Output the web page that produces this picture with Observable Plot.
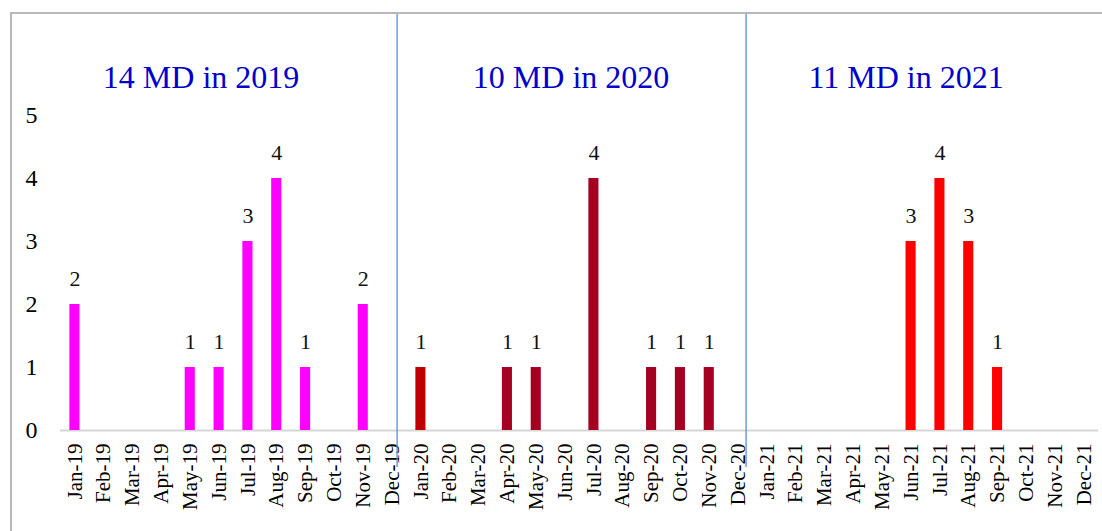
<!DOCTYPE html>
<html>
<head>
<meta charset="utf-8">
<script src="https://cdn.jsdelivr.net/npm/d3@7"></script>
<script src="https://cdn.jsdelivr.net/npm/@observablehq/plot@0.6"></script>
<style>
  html, body { margin: 0; padding: 0; background: #fff; }
  #wrap { position: relative; width: 1102px; height: 531px; overflow: hidden; }
  #frame { position: absolute; left: 10px; top: 12px; width: 1200px; height: 600px;
           border-top: 2px solid #b8b8b8; border-left: 2px solid #b8b8b8; pointer-events: none; }
  svg { display: block; }
</style>
</head>
<body>
<div id="wrap"><div id="frame"></div></div>
<script>
// Monthly MD counts, January 2019 through December 2021
const monthNames = ["Jan","Feb","Mar","Apr","May","Jun","Jul","Aug","Sep","Oct","Nov","Dec"];
const years = ["19", "20", "21"];
const counts2019 = [2, 0, 0, 0, 1, 1, 3, 4, 1, 0, 2, 0];
const counts2020 = [1, 0, 0, 1, 1, 0, 4, 0, 1, 1, 1, 0];
const counts2021 = [0, 0, 0, 0, 0, 3, 4, 3, 1, 0, 0, 0];
const yearColors = ["#FF00FF", "#A50021", "#FF0000"];
const accentMonth = {"Jan-20": "#C00000"};
const yTicks = [0, 1, 2, 3, 4, 5];
const yearTitles = ["14 MD in 2019", "10 MD in 2020", "11 MD in 2021"];
const titleMonths = ["Jun-19", "Jun-20", "Jun-21"];
const titleShift = [-18, 6, -5];
const dividerMonths = ["Dec-19", "Dec-20"];
const dividerShift = [5, 8];

const allCounts = [counts2019, counts2020, counts2021];
const months = years.flatMap(y => monthNames.map(m => `${m}-${y}`));
const rows = years.flatMap((y, i) => monthNames.map((m, j) => {
  const label = `${m}-${y}`;
  return {month: label, value: allCounts[i][j], color: accentMonth[label] ?? yearColors[i]};
}));
const nonzero = rows.filter(d => d.value > 0);
const titles = yearTitles.map((t, i) => ({text: t, month: titleMonths[i], dx: titleShift[i]}));

const font = "'Liberation Serif', 'Times New Roman', serif";

const chart = Plot.plot({
  width: 1102,
  height: 531,
  marginLeft: 60,
  marginRight: 4,
  marginTop: 115,
  marginBottom: 101,
  style: {fontFamily: font, background: "transparent", overflow: "visible"},
  x: {domain: months, paddingInner: 0.65, paddingOuter: 0.325, align: 0.5, round: false, label: null},
  y: {domain: [0, 5], label: null},
  marks: [
    Plot.axisX({tickRotate: -90, tickSize: 0, tickPadding: 13, fontSize: 21, fill: "#000", label: null}),
    Plot.axisY({ticks: yTicks, tickSize: 0, tickPadding: 23, fontSize: 24, fill: "#000", label: null, tickFormat: d3.format("d")}),
    Plot.ruleY([0], {stroke: "#d6d6d6", strokeWidth: 2}),
    Plot.barY(rows, {x: "month", y: "value", fill: "color"}),
    Plot.text(nonzero, {x: "month", y: "value", text: d => String(d.value), dy: -26,
                        fontSize: 22, fill: "#111"}),
    ...dividerMonths.map((m, i) => Plot.ruleX([m], {dx: dividerShift[i], stroke: "#5b8bd6", strokeWidth: 1.3,
                        insetTop: -102, insetBottom: -37})),
    ...titles.map(t => Plot.text([t], {x: "month", frameAnchor: "top", text: "text", dx: t.dx, dy: -50,
                        fontSize: 32, fill: "#0000CC"}))
  ]
});

document.getElementById("wrap").appendChild(chart);
</script>
</body>
</html>
